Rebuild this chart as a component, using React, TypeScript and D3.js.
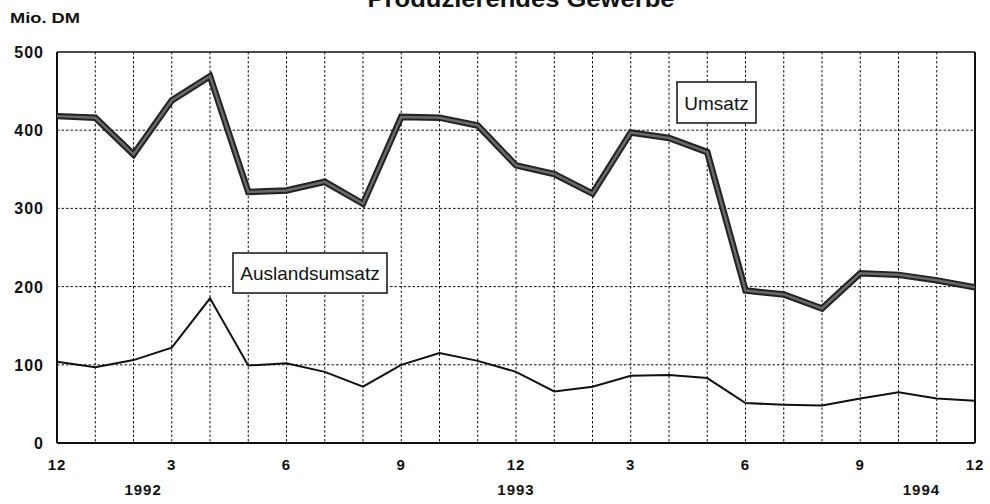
import React from "react";
import * as d3 from "d3";

const monthTickLabels = ["12", "3", "6", "9", "12", "3", "6", "9", "12"];
const yearLabels = ["1992", "1993", "1994"];
const yearLabelAt = [2.25, 12, 22.6];
const yTicks = [0, 100, 200, 300, 400, 500];

const umsatz = [418, 416, 369, 438, 469, 321, 323, 334, 306, 417, 416, 406, 355, 344, 319, 397, 390, 372, 195, 190, 172, 217, 215, 208, 199];
const auslandsumsatz = [104, 97, 106, 122, 185, 99, 102, 91, 72, 100, 115, 105, 91, 66, 72, 86, 87, 83, 51, 49, 48, 57, 65, 57, 54];

const W = 990;
const H = 504;
const L = 57;
const R = 975;
const T = 52;
const B = 443;

export default function App() {
  const x = d3.scaleLinear().domain([0, 24]).range([L, R]);
  const y = d3.scaleLinear().domain([0, 500]).range([B, T]);
  const line = d3
    .line<number>()
    .x((_, i) => x(i))
    .y((d) => y(d));
  const months = d3.range(1, 24);
  const font = "'Liberation Sans', Arial, Helvetica, sans-serif";

  return (
    <svg
      width={W}
      height={H}
      style={{ position: "absolute", left: 0, top: 0, background: "#fff" }}
      fontFamily={font}
    >
      <rect width={W} height={H} fill="#fff" />
      <text x={521} y={7} textAnchor="middle" fontSize={24} fontWeight="bold" textLength={307} lengthAdjust="spacingAndGlyphs" fill="#111">
        Produzierendes Gewerbe
      </text>
      <text x={10} y={23} fontSize={15} fontWeight="bold" textLength={70} lengthAdjust="spacingAndGlyphs" fill="#111">
        Mio. DM
      </text>

      {/* horizontal grid */}
      {yTicks.slice(1, 5).map((v) => (
        <line key={"h" + v} x1={L} x2={R} y1={y(v)} y2={y(v)} stroke="#111" strokeWidth={1} strokeDasharray="2.5,2" />
      ))}
      {/* vertical grid */}
      {months.map((m) => (
        <line key={"v" + m} x1={x(m)} x2={x(m)} y1={T} y2={B} stroke="#111" strokeWidth={1} strokeDasharray="2.5,2" />
      ))}

      {/* frame */}
      <line x1={L} x2={R} y1={T} y2={T} stroke="#111" strokeWidth={1.5} />
      <line x1={L} x2={L} y1={T} y2={B} stroke="#111" strokeWidth={2} />
      <line x1={R} x2={R} y1={T} y2={B} stroke="#111" strokeWidth={2} />
      <line x1={L} x2={R} y1={B} y2={B} stroke="#111" strokeWidth={2} />

      {/* y tick labels */}
      {yTicks.map((v) => (
        <text key={"yt" + v} x={44} y={y(v) + 6} textAnchor="end" fontSize={16} fontWeight="bold" fill="#111" letterSpacing={1}>
          {v}
        </text>
      ))}

      {/* x tick labels */}
      {monthTickLabels.map((lab, i) => (
        <text key={"xt" + i} x={x(i * 3)} y={470} textAnchor="middle" fontSize={15} fontWeight="bold" fill="#111" letterSpacing={1}>
          {lab}
        </text>
      ))}
      {yearLabels.map((lab, i) => (
        <text key={"yl" + i} x={x(yearLabelAt[i])} y={495} textAnchor="middle" fontSize={15} fontWeight="bold" fill="#111" letterSpacing={1}>
          {lab}
        </text>
      ))}

      {/* series */}
      <path d={line(auslandsumsatz) || ""} fill="none" stroke="#111" strokeWidth={2} strokeLinejoin="miter" />
      <path d={line(umsatz) || ""} fill="none" stroke="#222" strokeWidth={6.5} strokeLinejoin="miter" />
      <path d={line(umsatz) || ""} fill="none" stroke="#6a6a6a" strokeWidth={2.5} strokeLinejoin="miter" />

      {/* labels */}
      <rect x={677} y={82} width={79} height={41} fill="#fff" stroke="#111" strokeWidth={1.5} />
      <text x={716.5} y={110} textAnchor="middle" fontSize={19} fill="#111">
        Umsatz
      </text>
      <rect x={233} y={253} width={154} height={40} fill="#fff" stroke="#111" strokeWidth={1.5} />
      <text x={310} y={280} textAnchor="middle" fontSize={19} fill="#111">
        Auslandsumsatz
      </text>
    </svg>
  );
}
